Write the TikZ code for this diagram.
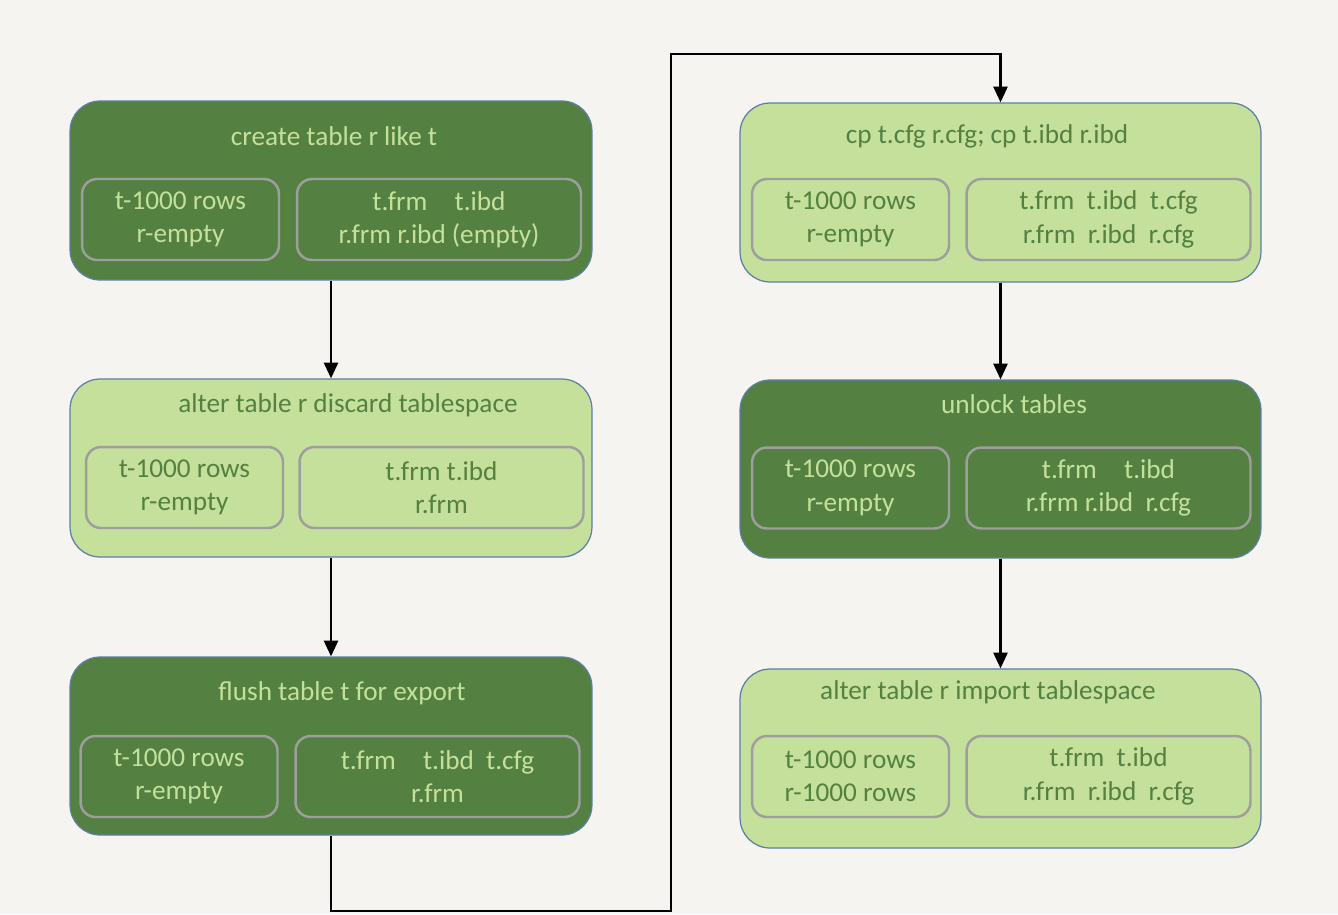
\documentclass[tikz,border=0pt]{standalone}
\usepackage{fontspec}
\setmainfont{Carlito}
\usetikzlibrary{arrows.meta}
\definecolor{bgpaper}{HTML}{F5F4F0}
\definecolor{darkleaf}{HTML}{548141}
\definecolor{lightleaf}{HTML}{C5E09B}
\definecolor{rimblue}{HTML}{5B7FA6}
\definecolor{rimgray}{HTML}{9E9E9E}
\tikzset{
	outer/.style = {rectangle, rounded corners=0.6cm, draw=rimblue, line width=0.7pt, minimum width=10.44cm, minimum height=3.58cm},
	darkbox/.style = {outer, fill=darkleaf},
	lightbox/.style = {outer, fill=lightleaf},
	cell/.style = {rectangle, rounded corners=0.3cm, draw=rimgray, line width=1.4pt, minimum height=1.62cm, align=center, font=\fontsize{15.5}{19}\selectfont},
	cellL/.style = {cell, minimum width=3.94cm},
	cellR/.style = {cell, minimum width=5.68cm},
	title/.style = {font=\fontsize{15.5}{18}\selectfont},
	arr/.style = {line width=1.4pt, -{Triangle[length=9pt,width=8pt]}}
}

\begin{document}
\begin{tikzpicture}[x=0.02cm, y=-0.02cm]
	%background
	\fill[bgpaper] (0,0) rectangle (1338,914);
	\useasboundingbox (0,0) rectangle (1338,914);

	%left column
	\node[darkbox] (create) at (331,190.5) {};
	\node[title, text=lightleaf] (createT) at (334,136) {create table r like t};
	\node[cellL, text=lightleaf] (createA) at (180.5,219.5) {t-1000 rows\\r-empty};
	\node[cellR, text=lightleaf] (createB) at (439,219.5) {t.frm\quad t.ibd\\r.frm r.ibd (empty)};

	\node[lightbox, minimum height=3.56cm] (discard) at (331,468) {};
	\node[title, text=darkleaf] (discardT) at (348,405) {alter table r discard tablespace};
	\node[cellL, text=darkleaf] (discardA) at (184.5,487.5) {t-1000 rows\\r-empty};
	\node[cellR, text=darkleaf] (discardB) at (441.5,487.5) {t.frm t.ibd\\r.frm};

	\node[darkbox, minimum height=3.56cm] (flush) at (331,746) {};
	\node[title, text=lightleaf] (flushT) at (342,693) {flush table t for export};
	\node[cellL, text=lightleaf] (flushA) at (179,776.5) {t-1000 rows\\r-empty};
	\node[cellR, text=lightleaf] (flushB) at (437.5,776.5) {t.frm\quad t.ibd\ \ t.cfg\\r.frm};

	%right column
	\node[lightbox, minimum width=10.42cm] (copy) at (1000.5,192.5) {};
	\node[title, text=darkleaf] (copyT) at (987,136) {cp t.cfg r.cfg; cp t.ibd r.ibd};
	\node[cellL, text=darkleaf] (copyA) at (850.5,219.5) {t-1000 rows\\r-empty};
	\node[cellR, text=darkleaf] (copyB) at (1108.5,219.5) {t.frm\ \ t.ibd\ \ t.cfg\\r.frm\ \ r.ibd\ \ r.cfg};

	\node[darkbox, minimum width=10.42cm, minimum height=3.56cm] (unlock) at (1000.5,469) {};
	\node[title, text=lightleaf] (unlockT) at (1014,404) {unlock tables};
	\node[cellL, text=lightleaf] (unlockA) at (850.5,488) {t-1000 rows\\r-empty};
	\node[cellR, text=lightleaf] (unlockB) at (1108.5,488) {t.frm\quad t.ibd\\r.frm r.ibd\ \ r.cfg};

	\node[lightbox, minimum width=10.42cm] (import) at (1000.5,758.5) {};
	\node[title, text=darkleaf] (importT) at (988,692) {alter table r import tablespace};
	\node[cellL, text=darkleaf] (importA) at (850.5,776.5) {t-1000 rows\\r-1000 rows};
	\node[cellR, text=darkleaf] (importB) at (1108.5,776.5) {t.frm\ \ t.ibd\\r.frm\ \ r.ibd\ \ r.cfg};

	%connectors
	\coordinate (turnA) at (671,911);
	\coordinate (turnB) at (671,54);
	\draw[arr] (create.south) -- (discard.north);
	\draw[arr] (discard.south) -- (flush.north);
	\draw[arr] (flush.south) |- (turnA) -- (turnB) -| (copy.north);
	\draw[arr] (copy.south) -- (unlock.north);
	\draw[arr] (unlock.south) -- (import.north);
\end{tikzpicture}
\end{document}
